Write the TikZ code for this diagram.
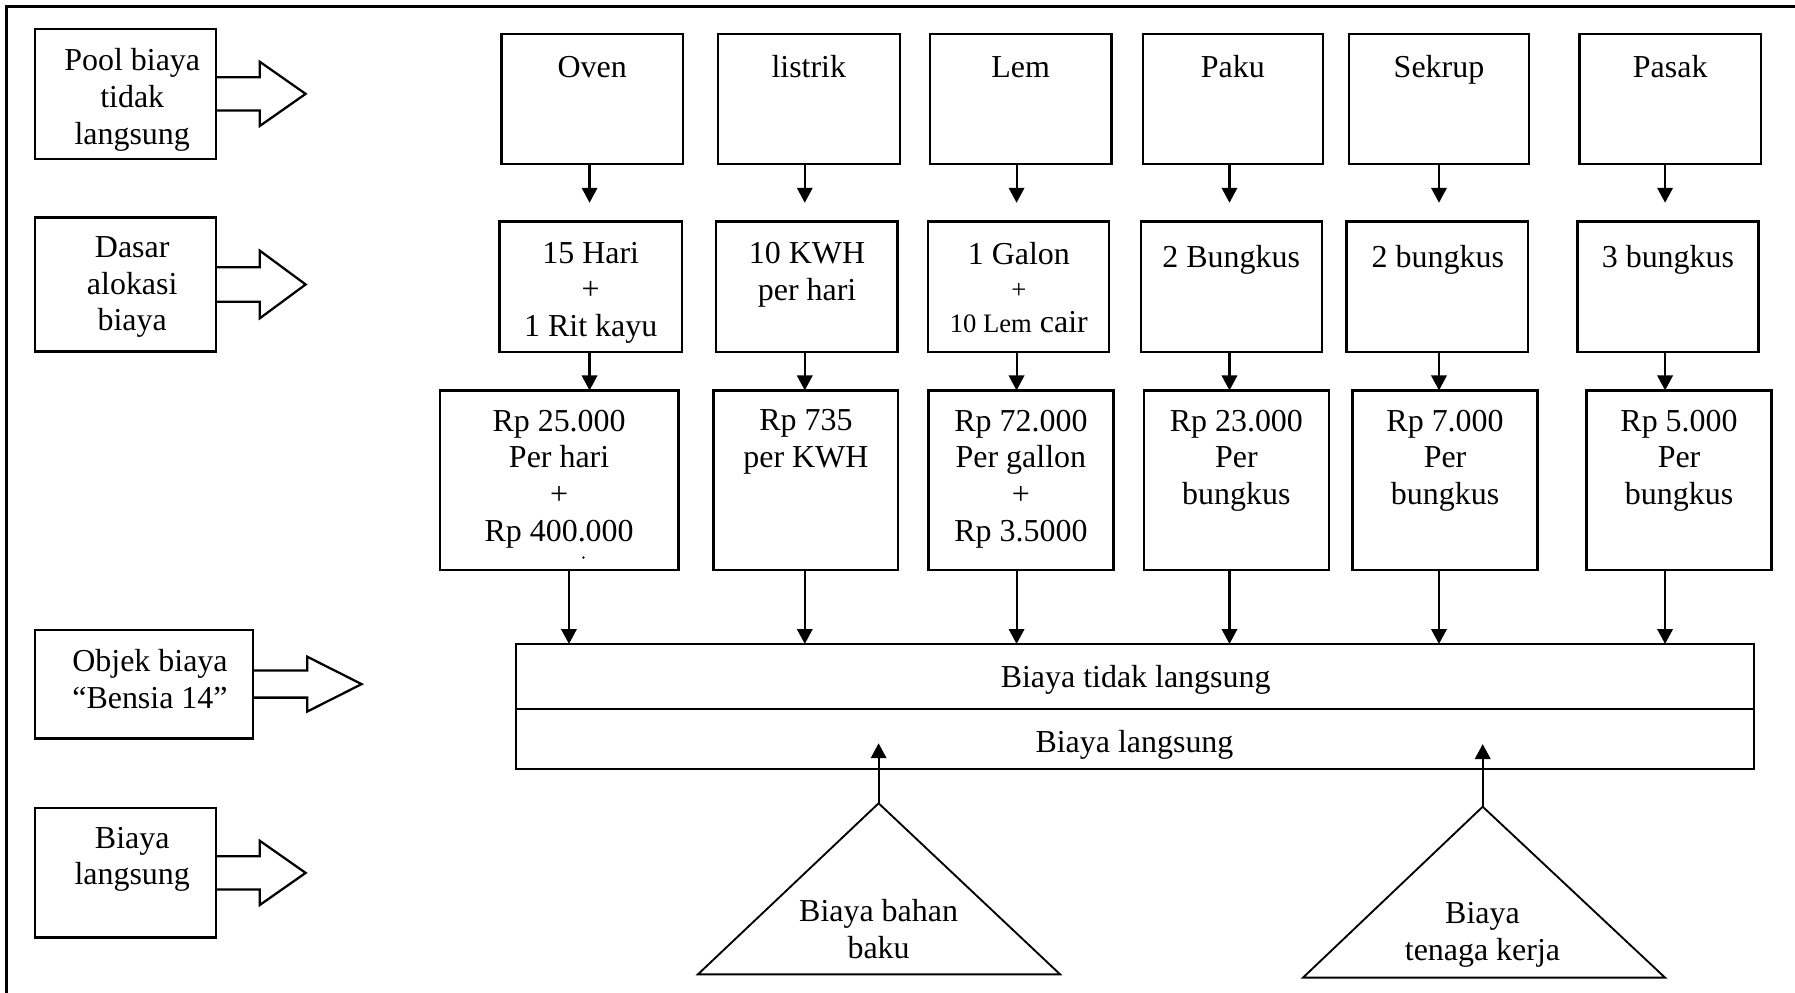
\documentclass[tikz,border=0pt]{standalone}
\usepackage{fontspec}
\setmainfont{Liberation Serif}
\usetikzlibrary{arrows.meta}

\tikzset{
  cell/.style={draw, line width=0.85pt, inner sep=0pt, outer sep=0pt, anchor=north west},
  txt/.style={font=\fontsize{12}{13.8}\selectfont, align=center, inner sep=0pt,
              anchor=north, execute at begin node=\strut},
  flow/.style={line width=0.8pt, -{Triangle[length=5.6pt,width=5.8pt]}},
  fat/.style={draw, line width=0.85pt, line join=miter},
  tri/.style={draw, line width=0.7pt, line join=miter},
}

% rectangle node given by its corners (x1,y1) and (x2,y2), y measured downwards
\newcommand{\cellbox}[5]{%
  \pgfmathsetmacro\cw{(#4-#2)*0.43}%
  \pgfmathsetmacro\ch{(#5-#3)*0.43}%
  \node[cell, minimum width=\cw pt, minimum height=\ch pt] (#1) at (#2,#3) {};}

% hollow block arrow: start x, centre y, head x, tip x, half stem, half head
\newcommand{\blockarrow}[6]{%
  \draw[fat] (#1,#2-#5) -- (#3,#2-#5) -- (#3,#2-#6) -- (#4,#2)
             -- (#3,#2+#6) -- (#3,#2+#5) -- (#1,#2+#5);}

\begin{document}
\begin{tikzpicture}[x=0.43pt,y=-0.43pt]
\useasboundingbox (0,0) rectangle (1568,867);

% page frame
\draw[line width=1pt] (5.8,867) -- (5.8,5.8) -- (1568,5.8);

% ---------- legend column ----------
\cellbox{pool}{30.4}{25.6}{188.4}{138.6}
\cellbox{dasar}{30.4}{190}{188.4}{307}
\cellbox{objek}{30.4}{550.3}{220.7}{645}
\cellbox{langsung}{30.4}{706}{188.4}{819}

\blockarrow{188.4}{82}{227}{267}{14.5}{28}
\blockarrow{188.4}{248.5}{227}{267}{15}{29.5}
\blockarrow{220.7}{597.6}{268.3}{315.9}{11.8}{24}
\blockarrow{188.4}{762.5}{227}{267}{14.5}{28}

\node[txt] (poolT) at (115.5,42) {Pool biaya\\tidak\\langsung};
\node[txt] (dasarT) at (115.5,206) {Dasar\\alokasi\\biaya};
\node[txt] (objekT) at (131,567) {Objek biaya\\“Bensia 14”};
\node[txt] (langsungT) at (115.5,722) {Biaya\\langsung};

% ---------- cost pools ----------
\cellbox{oven}{438}{30}{596.6}{143.5}
\cellbox{listrik}{627.1}{30}{785.9}{143.5}
\cellbox{lem}{812.1}{30}{970.9}{143.5}
\cellbox{paku}{998.4}{30}{1155.9}{143.5}
\cellbox{sekrup}{1178.2}{30}{1335.8}{143.5}
\cellbox{pasak}{1379.8}{30}{1538}{143.5}

\node[txt] (ovenT) at (517.3,45) {Oven};
\node[txt] (listrikT) at (706.5,45) {listrik};
\node[txt] (lemT) at (891.5,45) {Lem};
\node[txt] (pakuT) at (1077,45) {Paku};
\node[txt] (sekrupT) at (1257,45) {Sekrup};
\node[txt] (pasakT) at (1459,45) {Pasak};

% ---------- allocation bases ----------
\cellbox{hari}{436.4}{193.6}{595.5}{307.2}
\cellbox{kwh}{625.2}{193.6}{784.1}{307.2}
\cellbox{galon}{810.8}{193.6}{969}{307.2}
\cellbox{bkA}{996.5}{193.6}{1154.6}{307.2}
\cellbox{bkB}{1176.3}{193.6}{1334.5}{307.2}
\cellbox{bkC}{1377.9}{193.6}{1536.1}{307.2}

\node[txt] (hariT) at (516,211) {15 Hari\\+\\1 Rit kayu};
\node[txt] (kwhT) at (705,211) {10 KWH\\per hari};
\node[txt] (galonT) at (890,211)
  {1 Galon\\[-1pt]{\fontsize{10}{12}\selectfont +}\\[-1pt]{\fontsize{10}{12}\selectfont 10 Lem} cair};
\node[txt] (bkAT) at (1075.5,211) {2 Bungkus};
\node[txt] (bkBT) at (1256,211) {2 bungkus};
\node[txt] (bkCT) at (1457,211) {3 bungkus};

% ---------- rates ----------
\cellbox{rpA}{384.1}{341}{592.7}{498}
\cellbox{rpB}{623.2}{341}{784.5}{498}
\cellbox{rpC}{811.1}{341}{972.6}{498}
\cellbox{rpD}{999.6}{341}{1160.6}{498}
\cellbox{rpE}{1181.5}{341}{1343.1}{498}
\cellbox{rpF}{1385.9}{341}{1547.5}{498}

\node[txt] (rpAT) at (488.4,357.5) {Rp 25.000\\Per hari\\+\\Rp 400.000};
\fill (509.6,487) circle (1.2);
\node[txt] (rpBT) at (704,357.5) {Rp 735\\per KWH};
\node[txt] (rpCT) at (891.8,357.5) {Rp 72.000\\Per gallon\\+\\Rp 3.5000};
\node[txt] (rpDT) at (1080,357.5) {Rp 23.000\\Per\\bungkus};
\node[txt] (rpET) at (1262.3,357.5) {Rp 7.000\\Per\\bungkus};
\node[txt] (rpFT) at (1466.7,357.5) {Rp 5.000\\Per\\bungkus};

% ---------- cost object ----------
\cellbox{indirect}{450.5}{562.5}{1532.2}{619.3}
\cellbox{direct}{450.5}{619.3}{1532.2}{672}
\node[txt] (indirectT) at (992,578) {Biaya tidak langsung};
\node[txt] (directT) at (991,634) {Biaya langsung};

% ---------- direct cost triangles ----------
\coordinate (apexA) at (767.5,701.7);
\coordinate (tipA) at (767.5,649.3);
\coordinate (apexB) at (1295.2,704.7);
\coordinate (tipB) at (1295.2,650);
\draw[tri] (609.7,851.1) -- (apexA) -- (926,851.1) -- cycle;
\draw[tri] (1138.2,854) -- (apexB) -- (1454.5,854) -- cycle;
\node[txt] (bahanT) at (767.5,785) {Biaya bahan\\baku};
\node[txt] (tenagaT) at (1295,788) {Biaya\\tenaga kerja};
\draw[flow] (apexA) -- (tipA);
\draw[flow] (apexB) -- (tipB);

% ---------- connector columns ----------
\coordinate (xA) at (515,0);
\coordinate (xAlow) at (497,0);
\coordinate (xB) at (703,0);
\coordinate (xC) at (888,0);
\coordinate (xD) at (1074,0);
\coordinate (xE) at (1257,0);
\coordinate (xF) at (1454.5,0);

\foreach \t/\m/\b/\x in {oven/hari/rpA/xA, listrik/kwh/rpB/xB, lem/galon/rpC/xC,
                         paku/bkA/rpD/xD, sekrup/bkB/rpE/xE, pasak/bkC/rpF/xF}{
  \draw[flow, shorten >=7.1pt] (\t.south -| \x) -- (\m.north -| \x);
  \draw[flow] (\m.south -| \x) -- (\b.north -| \x);
}
\draw[flow] (rpA.south -| xAlow) -- (indirect.north -| xAlow);
\foreach \b/\x in {rpB/xB, rpC/xC, rpD/xD, rpE/xE, rpF/xF}{
  \draw[flow] (\b.south -| \x) -- (indirect.north -| \x);
}
\end{tikzpicture}
\end{document}
